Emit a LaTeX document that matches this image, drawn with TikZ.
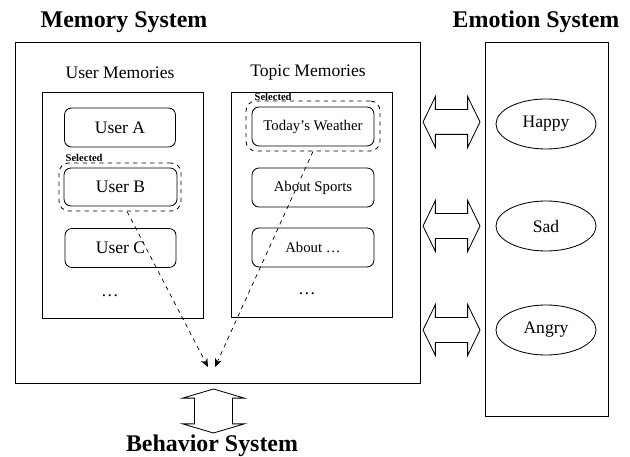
\documentclass[tikz,border=0pt]{standalone}
\usepackage{fontspec}
\setmainfont{Liberation Serif}
\usetikzlibrary{positioning, arrows.meta, shapes.geometric, shapes.arrows, calc}

\begin{document}
\begin{tikzpicture}[x=0.025cm, y=-0.025cm,
    line width=0.6pt,
    panel/.style={rectangle, draw, inner sep=0pt},
    item/.style={rectangle, draw, rounded corners=5pt, minimum width=2.775cm, minimum height=0.975cm,
                 inner sep=0pt, font=\fontsize{12.5}{14}\selectfont},
    topicitem/.style={item, minimum width=3.05cm, font=\fontsize{10.5}{12}\selectfont},
    selbox/.style={rectangle, draw, dashed, rounded corners=7pt, inner sep=0pt},
    seltag/.style={font=\bfseries\fontsize{7.5}{8}\selectfont, inner sep=0.5pt, anchor=south west},
    mood/.style={ellipse, draw, minimum width=2.5cm, minimum height=1.25cm, inner sep=0pt,
                 font=\fontsize{12.5}{14}\selectfont},
    link/.style={double arrow, draw, inner sep=0pt},
    title/.style={font=\bfseries\fontsize{17}{20}\selectfont},
    heading/.style={font=\fontsize{12.5}{14}\selectfont},
    pick/.style={-{Stealth[length=6pt, width=5pt]}, dashed, line width=0.5pt},
    >=stealth
]
\useasboundingbox (0,0) rectangle (630,457);

% Systems
\node[panel, minimum width=10.125cm, minimum height=8.525cm] (memory) at (217.5,212.5) {};
\node[panel, minimum width=3.075cm, minimum height=9.35cm] (emotion) at (546.5,229) {};
\node[title] (memtitle) at (124,22) {Memory System};
\node[title] (emotitle) at (536,22) {Emotion System};
\node[title] (behtitle) at (212,446) {Behavior System};

% User memories
\node[heading] (userhead) at (120,73) {User Memories};
\node[panel, minimum width=4.025cm, minimum height=5.65cm] (users) at (122.5,205) {};
\node[item] (usera) at (120,127.5) {User A};
\node[selbox, minimum width=3.05cm, minimum height=1.2cm] (selb) at (120,187) {};
\node[item, minimum width=2.825cm, minimum height=0.95cm] (userb) at (120.5,187) {User B};
\node[item] (userc) at (120.5,248) {User C};
\node[heading] (userdots) at (110,296) {\dots};
\node[seltag] (tagb) at ($(selb.north west)+(6,0)$) {Selected};

% Topic memories
\node[heading] (topichead) at (308,73) {Topic Memories};
\node[panel, minimum width=4.025cm, minimum height=5.625cm] (topics) at (311.5,204.5) {};
\node[selbox, minimum width=3.35cm, minimum height=1.25cm] (selw) at (313,126) {};
\node[topicitem] (weather) at (313,126.5) {Today’s Weather};
\node[topicitem] (sports) at (313,187.5) {About Sports};
\node[topicitem] (about) at (313,247.5) {About \dots};
\node[heading] (topicdots) at (307,294) {\dots};
\node[seltag] (tagw) at ($(selw.north west)+(8,1)$) {Selected};

% Emotions
\node[mood] (happy) at (546,124) {Happy};
\node[mood] (sad) at (546,226) {Sad};
\node[mood] (angry) at (546,330) {Angry};

% Interfaces
\foreach \name/\y in {lhappy/122, lsad/226, langry/330}
  \node[link, minimum height=1.425cm, minimum width=1.25cm, double arrow head extend=0.325cm,
        double arrow tip angle=128] (\name) at (451.5,\y) {\rule{0pt}{0.6cm}};
\node[link, shape border rotate=90, minimum height=1.1cm, minimum width=1.525cm,
      double arrow head extend=0.3cm, double arrow tip angle=147] (lbehav) at (213.5,411)
      {\rule{0.925cm}{0pt}};

% Selection paths
\coordinate (outb) at (208,367);
\coordinate (outw) at (215,367);
\draw[pick] ($(selb.south)+(7,0)$) -- (outb);
\draw[pick] (selw.south) -- (outw);
\end{tikzpicture}
\end{document}
